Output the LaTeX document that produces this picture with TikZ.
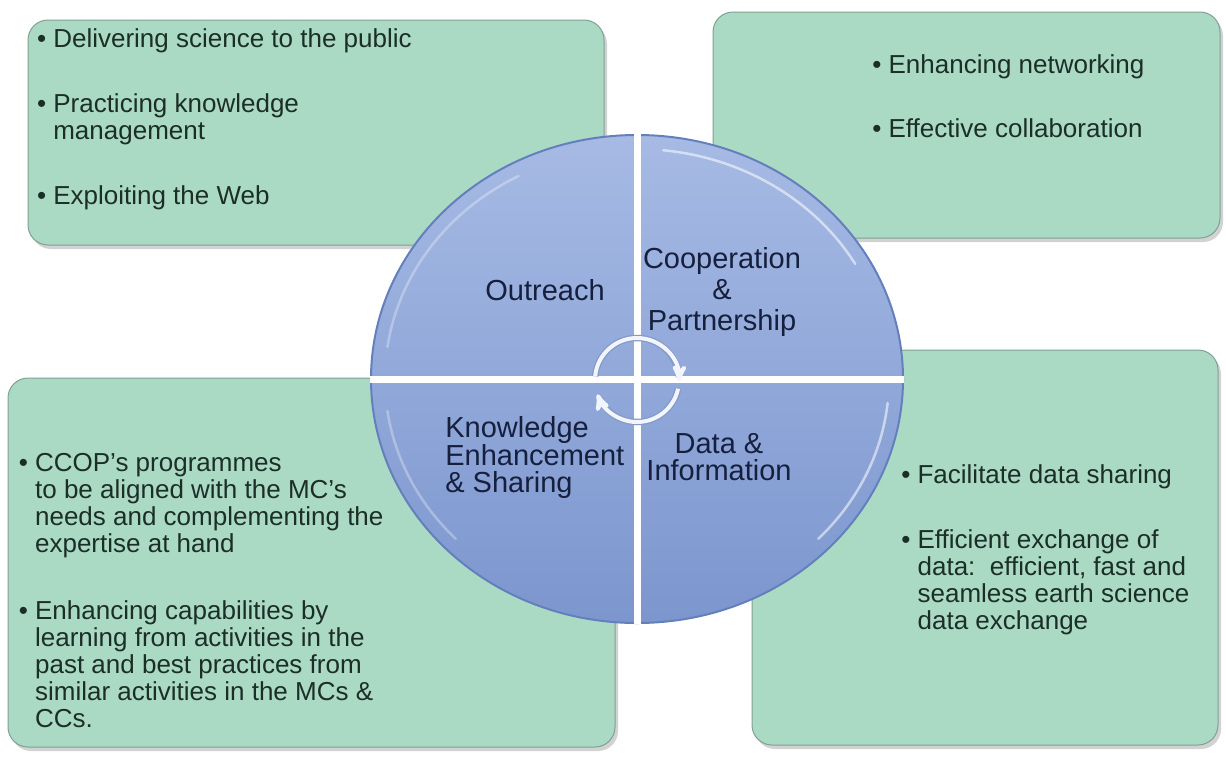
\documentclass[tikz,border=0pt]{standalone}
\usepackage{fontspec}
\setmainfont{Liberation Sans}
\usepackage{tikz}
\usetikzlibrary{arrows,shapes,shadows,positioning}
\definecolor{mint}{RGB}{170,218,196}
\definecolor{mintline}{RGB}{128,160,150}
\definecolor{hubtop}{RGB}{166,186,228}
\definecolor{hubbot}{RGB}{124,150,206}
\definecolor{hubline}{RGB}{100,128,188}
\definecolor{navy}{RGB}{22,32,62}
\definecolor{leaf}{RGB}{28,46,40}
\newcommand{\hang}{\phantom{\textbullet\ }}

\begin{document}
\begin{tikzpicture}[x=1pt,y=-1pt,>=stealth',semithick]
 \tikzstyle{panel}=[rectangle, rounded corners=20pt, fill=mint, draw=mintline, line width=1pt, inner sep=0pt,
                    drop shadow={shadow xshift=3pt,shadow yshift=-4pt,opacity=0.35}]
 \tikzstyle{bullets}=[anchor=north west, align=left, inner sep=0pt, text=leaf, font=\fontsize{26}{27}\selectfont]
 \tikzstyle{hubtext}=[text=navy, inner sep=0pt, font=\fontsize{29}{31}\selectfont]
 \tikzstyle{divider}=[white, line width=7pt]
 \tikzstyle{gloss}=[white, opacity=0.55, line width=2.5pt, line cap=round]
 \tikzstyle{turnrim}=[draw=hubline!80, line width=6.5pt]
 \tikzstyle{turn}=[draw=white!85!hubtop, line width=4pt, ->]
  \path[use as bounding box, fill=white] (0,0) rectangle (1226,756);
  \node[panel] (outbox) at (316,132.5) [minimum width=576pt, minimum height=225pt] {};
  \node[panel] (coopbox) at (966.5,125) [minimum width=507pt, minimum height=226pt] {};
  \node[panel] (knowbox) at (311.5,562.5) [minimum width=607pt, minimum height=369pt] {};
  \node[panel] (databox) at (985,547.5) [minimum width=466pt, minimum height=395pt] {};
  \node[bullets] (outtext) at (36.7,28) {\textbullet\ Delivering science to the public\\[38pt]
    \textbullet\ Practicing knowledge\\ \hang management\\[38pt]
    \textbullet\ Exploiting the Web};
  \node[bullets] (cooptext) at (872,54) {\textbullet\ Enhancing networking\\[37pt]
    \textbullet\ Effective collaboration};
  \node[bullets] (knowtext) at (18.5,453) {\textbullet\ CCOP’s programmes\\
    \hang to be aligned with the MC’s\\ \hang needs and complementing the\\ \hang expertise at hand\\[40pt]
    \textbullet\ Enhancing capabilities by\\ \hang learning from activities in the\\
    \hang past and best practices from\\ \hang similar activities in the MCs \&\\ \hang CCs.};
  \node[bullets] (datatext) at (901,464) {\textbullet\ Facilitate data sharing\\[38pt]
    \textbullet\ Efficient exchange of\\ \hang data:\ \ efficient, fast and\\
    \hang seamless earth science\\ \hang data exchange};
  \node[ellipse, draw=hubline, line width=2pt, top color=hubtop, bottom color=hubbot, inner sep=0pt,
        minimum width=532pt, minimum height=488pt] (hub) at (637,379) {};
  \draw[gloss] (hub.center) ++(-84:252 and 230) arc[start angle=-84, end angle=-30, x radius=252, y radius=230];
  \draw[gloss] (hub.center) ++(6:252 and 230) arc[start angle=6, end angle=44, x radius=252, y radius=230];
  \draw[gloss, opacity=0.3] (hub.center) ++(-172:252 and 230) arc[start angle=-172, end angle=-118, x radius=252, y radius=230];
  \draw[gloss, opacity=0.3] (hub.center) ++(172:252 and 230) arc[start angle=172, end angle=136, x radius=252, y radius=230];
  \draw[divider] (hub.north) -- (hub.south);
  \draw[divider] (hub.west) -- (hub.east);
  \coordinate (pivot) at (637,380);
  \draw[turnrim] (pivot) ++(-175:42) arc[start angle=-175, end angle=-4, radius=42];
  \draw[turnrim] (pivot) ++(12:42) arc[start angle=12, end angle=152, radius=42];
  \draw[turn] (pivot) ++(-175:42) arc[start angle=-175, end angle=2, radius=42];
  \draw[turn] (pivot) ++(12:42) arc[start angle=12, end angle=160, radius=42];
  \node[hubtext, anchor=base] (outlabel) at (545,300) {Outreach};
  \node[hubtext, anchor=north, align=center] (cooplabel) at (722,247) {Cooperation\\\&\\Partnership};
  \node[hubtext, anchor=north west, align=left, font=\fontsize{29}{27}\selectfont] (knowlabel) at (445,416)
    {Knowledge\\Enhancement\\\& Sharing};
  \node[hubtext, anchor=north, align=center, font=\fontsize{29}{27}\selectfont] (datalabel) at (719,433)
    {Data \&\\Information};
\end{tikzpicture}
\end{document}
